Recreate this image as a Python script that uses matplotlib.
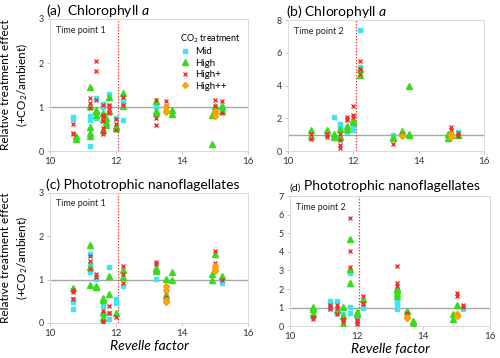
import numpy as np
import matplotlib
matplotlib.use("Agg")
import matplotlib.pyplot as plt
from matplotlib.lines import Line2D

plt.rcParams['font.family'] = ['Lato', 'DejaVu Sans']
plt.rcParams['mathtext.fontset'] = 'custom'
plt.rcParams['mathtext.rm'] = 'Lato'
plt.rcParams['mathtext.it'] = 'Lato:italic'

# (Revelle factor, relative effect)
a_mid = [(10.7, 0.77), (10.7, 0.72), (11.2, 0.8), (11.2, 0.71), (11.2, 0.12), (11.4, 1.21), (11.4, 0.76),
         (11.6, 1.07), (11.6, 0.99), (11.8, 1.29), (11.8, 1.03), (12.0, 0.75), (12.2, 1.15), (12.2, 1.09),
         (12.2, 0.71), (13.2, 1.0), (15.2, 1.0), (15.2, 0.94)]
a_high = [(10.8, 0.34), (10.8, 0.28), (11.2, 1.46), (11.2, 1.03), (11.2, 0.55), (11.2, 0.4), (11.2, 0.35),
          (11.4, 0.94), (11.4, 0.9), (11.4, 0.82), (11.6, 0.86), (11.6, 0.72), (11.6, 0.48), (11.7, 0.75),
          (11.7, 0.67), (11.7, 0.59), (11.8, 1.22), (11.8, 0.9), (12.0, 0.57), (12.0, 0.53), (12.2, 1.32),
          (12.2, 1.02), (13.2, 1.13), (13.2, 0.9), (13.2, 0.86), (13.7, 0.94), (13.7, 0.84), (14.9, 0.82),
          (14.9, 0.15), (15.0, 1.02), (15.2, 1.03), (15.2, 0.9)]
a_highp = [(10.7, 0.61), (10.7, 0.42), (10.7, 0.38), (11.2, 1.2), (11.2, 1.09), (11.2, 0.97), (11.4, 2.05),
           (11.4, 1.82), (11.4, 1.17), (11.6, 1.05), (11.6, 0.82), (11.6, 0.78), (11.6, 0.69), (11.6, 0.52),
           (11.6, 0.44), (11.6, 0.38), (11.8, 1.05), (11.8, 0.95), (11.8, 0.86), (12.0, 0.72), (12.0, 0.62),
           (12.0, 0.48), (12.2, 1.22), (12.2, 1.05), (13.2, 1.17), (13.2, 0.74), (13.2, 0.59), (13.5, 1.13),
           (13.5, 1.02), (15.0, 1.15), (15.0, 1.03), (15.2, 1.13), (15.2, 0.86)]
a_highpp = [(13.5, 0.99), (13.5, 0.92), (13.5, 0.89), (15.0, 0.92), (15.0, 0.86), (15.0, 0.8)]

b_mid = [(11.2, 0.96), (11.4, 2.08), (11.6, 1.67), (11.6, 1.47), (11.6, 0.76), (11.8, 1.16), (12.0, 1.47),
         (12.0, 1.27), (12.2, 7.39), (12.2, 5.14), (13.2, 1.0), (15.2, 1.16)]
b_high = [(10.7, 1.27), (10.7, 0.9), (11.2, 1.27), (11.4, 1.02), (11.4, 0.86), (11.6, 1.37), (11.6, 0.86),
          (11.8, 1.53), (11.8, 1.37), (12.0, 1.88), (12.0, 1.78), (12.2, 5.04), (12.2, 4.63), (13.2, 0.86),
          (13.2, 0.8), (13.5, 1.2), (13.7, 4.0), (13.7, 1.06), (13.7, 0.96), (14.9, 1.06), (14.9, 0.82),
          (15.0, 0.96), (15.2, 0.96)]
b_highp = [(10.7, 1.06), (10.7, 0.71), (11.2, 1.06), (11.2, 0.86), (11.6, 1.06), (11.6, 0.65), (11.6, 0.35),
           (11.6, 0.18), (11.8, 2.08), (11.8, 1.98), (11.8, 1.88), (12.0, 2.73), (12.0, 2.18), (12.0, 2.08),
           (12.2, 5.49), (12.2, 5.04), (12.2, 4.69), (13.2, 0.45), (13.5, 1.02), (15.0, 1.47), (15.0, 1.27),
           (15.2, 1.1), (15.2, 0.9)]
b_highpp = [(13.5, 0.9), (15.0, 1.06), (15.0, 0.86)]

c_mid = [(10.7, 0.56), (10.7, 0.48), (10.7, 0.32), (11.2, 1.58), (11.2, 1.35), (11.2, 1.18), (11.4, 1.02),
         (11.4, 0.81), (11.6, 0.38), (11.6, 0.15), (11.8, 1.29), (11.8, 0.22), (11.8, 0.08), (12.0, 0.56),
         (12.0, 0.46), (12.2, 0.85), (13.2, 1.02), (15.2, 0.92)]
c_high = [(10.7, 0.81), (11.2, 1.79), (11.2, 1.29), (11.2, 0.87), (11.4, 0.86), (11.4, 0.82), (11.6, 0.58),
          (11.6, 0.54), (11.6, 0.25), (11.6, 0.12), (11.8, 1.09), (11.8, 0.67), (12.0, 0.23), (12.2, 1.23),
          (12.2, 1.06), (13.2, 1.27), (13.2, 1.23), (13.2, 1.19), (13.5, 1.02), (13.5, 0.64), (13.7, 1.18),
          (13.7, 1.0), (14.9, 1.13), (14.9, 0.98), (15.0, 1.59), (15.2, 1.09)]
c_highp = [(10.7, 0.77), (10.7, 0.72), (10.7, 0.56), (11.2, 1.54), (11.2, 1.44), (11.2, 1.25), (11.4, 1.12),
           (11.4, 1.06), (11.6, 0.28), (11.6, 0.04), (11.6, 0.0), (11.8, 0.38), (11.8, 0.22), (12.0, 0.14),
           (12.2, 1.31), (12.2, 1.14), (12.2, 0.92), (13.2, 1.4), (13.2, 1.35), (13.5, 0.73), (13.5, 0.6),
           (15.0, 1.67), (15.0, 1.38), (15.2, 1.0)]
c_highpp = [(13.5, 0.85), (13.5, 0.77), (13.5, 0.54), (13.5, 0.48), (15.0, 1.31), (15.0, 1.25), (15.0, 1.19)]

d_mid = [(10.7, 0.56), (11.2, 1.35), (11.2, 1.26), (11.2, 1.0), (11.4, 1.36), (11.4, 0.72), (11.6, 0.65),
         (11.8, 2.87), (11.8, 1.04), (11.8, 0.72), (12.0, 0.5), (12.2, 1.0), (13.2, 1.31), (13.2, 1.17),
         (13.2, 0.95), (15.2, 0.9)]
d_high = [(10.7, 1.04), (10.7, 0.95), (10.7, 0.65), (11.4, 0.86), (11.6, 1.04), (11.6, 0.54), (11.6, 0.14),
          (11.6, 0.05), (11.8, 4.68), (11.8, 3.07), (11.8, 2.3), (12.0, 0.74), (12.0, 0.63), (12.2, 1.44),
          (13.2, 2.08), (13.2, 1.94), (13.2, 1.8), (13.2, 1.63), (13.5, 0.81), (13.7, 0.29), (13.7, 0.2),
          (13.7, 0.02), (14.9, 0.65), (14.9, 0.41), (15.0, 1.13)]
d_highp = [(10.7, 0.5), (10.7, 0.38), (11.2, 1.13), (11.2, 1.04), (11.2, 0.9), (11.4, 1.13), (11.4, 1.0),
           (11.4, 0.65), (11.6, 0.41), (11.6, 0.32), (11.6, 0.23), (11.8, 5.83), (11.8, 4.04), (11.8, 3.2),
           (12.0, 0.32), (12.0, 0.23), (12.0, 0.11), (12.2, 1.62), (12.2, 1.26), (12.2, 1.18), (13.2, 3.25),
           (13.2, 2.3), (13.2, 2.17), (13.5, 0.72), (13.5, 0.65), (15.0, 1.8), (15.0, 1.62), (15.2, 1.13),
           (15.2, 1.04)]
d_highpp = [(13.5, 0.5), (13.5, 0.45), (15.0, 0.68), (15.0, 0.56)]

treatments = ["Mid", "High", "High+", "High++"]
revelle_cut = 12.07

# marker styles per treatment
styles = {
    "Mid": dict(marker="s", color="#3DE6F2", ms=3.2, mec="#3DE6F2"),
    "High": dict(marker="^", color="#3ADB1A", ms=3.8, mec="#3ADB1A"),
    "High+": dict(marker="x", color="#F23030", ms=3.5, mew=1.0),
    "High++": dict(marker="D", color="#FFAE00", ms=3.0, mec="#F5A000"),
}

fig = plt.figure(figsize=(5.0, 3.58), dpi=100)
boxes = [
    [0.100, 0.578, 0.396, 0.369],
    [0.576, 0.578, 0.392, 0.366],
    [0.100, 0.098, 0.396, 0.363],
    [0.580, 0.089, 0.400, 0.363],
]
panels = [
    (a_mid, a_high, a_highp, a_highpp),
    (b_mid, b_high, b_highp, b_highpp),
    (c_mid, c_high, c_highp, c_highpp),
    (d_mid, d_high, d_highp, d_highpp),
]
ylims = [3, 8, 3, 7]
ysteps = [1, 2, 1, 1]
time_labels = ["Time point 1", "Time point 2", "Time point 1", "Time point 2"]

axes = []
for box, series, ymax, step, tp in zip(boxes, panels, ylims, ysteps, time_labels):
    ax = fig.add_axes(box)
    ax.axhline(1, color="#A6A6A6", lw=1.0, zorder=1)
    ax.axvline(revelle_cut, color="#F04040", lw=0.9, ls=(0, (1.2, 1.2)), zorder=1)
    for name, pts in zip(treatments, series):
        arr = np.array(pts)
        ax.plot(arr[:, 0], arr[:, 1], ls="none", zorder=3, **styles[name])
    ax.set_xlim(10, 16)
    ax.set_ylim(0, ymax)
    ax.set_xticks([10, 12, 14, 16])
    ax.set_yticks(np.arange(0, ymax + 0.1, step))
    ax.tick_params(axis="x", labelsize=7)
    ax.tick_params(axis="y", labelsize=6.5)
    ax.tick_params(axis="both", colors="#BFBFBF", labelcolor="#333333", length=2.5,
                   width=0.6, pad=2)
    for s in ax.spines.values():
        s.set_color("#D9D9D9")
        s.set_linewidth(0.7)
    ax.text(0.03, 0.95, tp, transform=ax.transAxes, fontsize=6.5, va="top", ha="left",
            color="#222222")
    axes.append(ax)

axes[0].set_title(r"(a)  Chlorophyll $\mathit{a}$", loc="left", fontsize=10, pad=3, x=-0.02)
axes[1].set_title(r"(b) Chlorophyll $\mathit{a}$", loc="left", fontsize=10, pad=3, x=-0.01)
axes[2].set_title("(c) Phototrophic nanoflagellates", loc="left", fontsize=10, pad=3, x=-0.02)
axes[3].text(0.0, 1.03, "(d)", transform=axes[3].transAxes, fontsize=7.5, va="bottom")
axes[3].text(0.07, 1.03, "Phototrophic nanoflagellates", transform=axes[3].transAxes,
             fontsize=10, va="bottom")

for ax in (axes[0], axes[2]):
    ax.set_ylabel("Relative treatment effect\n(+CO$_2$/ambient)", fontsize=8.5, labelpad=6,
                  linespacing=1.3)
for ax in (axes[2], axes[3]):
    ax.set_xlabel("Revelle factor", fontsize=10, style="italic", labelpad=1)

handles = [Line2D([], [], ls="none", **styles[n]) for n in treatments]
leg = axes[0].legend(handles, treatments, title="CO$_2$ treatment", loc="upper right",
                     bbox_to_anchor=(1.0, 0.95), frameon=False, fontsize=7,
                     title_fontsize=6.5, handlelength=1.0, handletextpad=0.5,
                     labelspacing=0.25, borderpad=0.2)
leg._legend_box.align = "left"

fig.savefig("out.png", dpi=100)
